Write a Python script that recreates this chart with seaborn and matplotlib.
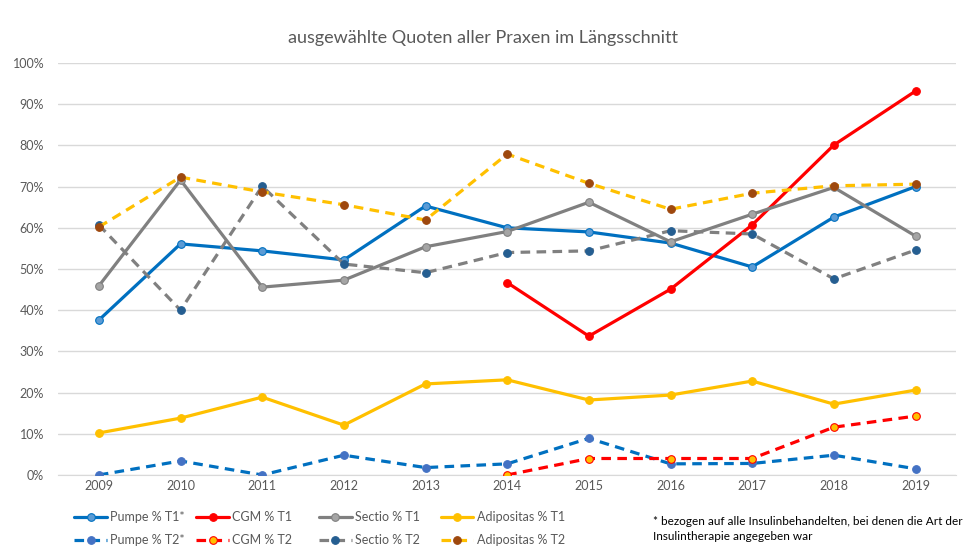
import numpy as np
import pandas as pd
import seaborn as sns
import matplotlib.pyplot as plt
from matplotlib.lines import Line2D

years = [2009, 2010, 2011, 2012, 2013, 2014, 2015, 2016, 2017, 2018, 2019]
nan = np.nan

pumpe_t1 = [37.6, 56.1, 54.4, 52.2, 65.3, 60.0, 59.0, 56.3, 50.5, 62.6, 70.0]
cgm_t1 = [nan, nan, nan, nan, nan, 46.7, 33.7, 45.1, 60.7, 80.1, 93.2]
sectio_t1 = [45.9, 71.6, 45.6, 47.3, 55.4, 59.1, 66.2, 56.6, 63.3, 69.8, 58.0]
adipositas_t1 = [10.2, 13.8, 18.9, 12.1, 22.1, 23.1, 18.2, 19.4, 22.8, 17.2, 20.6]

pumpe_t2 = [0.0, 3.4, 0.0, 4.8, 1.8, 2.7, 8.9, 2.7, 2.8, 4.8, 1.5]
cgm_t2 = [nan, nan, nan, nan, nan, 0.0, 4.0, 4.0, 4.0, 11.6, 14.3]
sectio_t2 = [60.7, 40.0, 70.1, 51.2, 49.1, 54.0, 54.4, 59.3, 58.5, 47.6, 54.6]
adipositas_t2 = [60.2, 72.3, 68.7, 65.6, 61.9, 77.9, 70.8, 64.5, 68.4, 70.2, 70.6]

# name, values, line colour, marker face, marker edge, dashed
series = [
    ("Pumpe % T1*", pumpe_t1, "#0070C0", "#5B9BD5", "#0070C0", False),
    ("CGM % T1", cgm_t1, "#FF0000", "#FF0000", "#FF0000", False),
    ("Sectio % T1", sectio_t1, "#808080", "#A5A5A5", "#808080", False),
    ("Adipositas % T1", adipositas_t1, "#FFC000", "#FFC000", "#FFC000", False),
    ("Pumpe % T2*", pumpe_t2, "#0070C0", "#4472C4", "#4472C4", True),
    ("CGM % T2", cgm_t2, "#FF0000", "#FFC000", "#FF0000", True),
    ("Sectio % T2", sectio_t2, "#808080", "#255E91", "#255E91", True),
    ("Adipositas % T2", adipositas_t2, "#FFC000", "#9E480E", "#9E480E", True),
]

sns.set_style("white")
plt.rcParams["font.family"] = ["Lato", "DejaVu Sans"]

fig = plt.figure(figsize=(9.67, 5.5), dpi=100)
ax = fig.add_axes([0.060, 0.1364, 0.929, 0.749])

xpos = np.arange(len(years))
handles = {}
for name, vals, col, face, edge, dashed in series:
    df = pd.DataFrame({"x": xpos, "y": np.array(vals) / 100})
    ls = (0, (3, 2)) if dashed else "-"
    sns.lineplot(data=df, x="x", y="y", ax=ax, color=col, linewidth=2.3,
                 linestyle=ls, marker="o", markersize=5.5,
                 markerfacecolor=face, markeredgecolor=edge,
                 markeredgewidth=0.8, zorder=3)
    handles[name] = Line2D([], [], color=col, linewidth=2.3, linestyle=ls,
                           marker="o", markersize=5.5, markerfacecolor=face,
                           markeredgecolor=edge, markeredgewidth=0.8)

ax.set_xlim(-0.5, len(years) - 0.5)
ax.set_ylim(0, 1)
ax.set_xticks(xpos)
ax.set_xticklabels(years)
ax.set_yticks(np.arange(0, 1.01, 0.1))
ax.set_yticklabels([f"{int(v)}%" for v in np.arange(0, 101, 10)])
ax.yaxis.grid(True, color="#D9D9D9", linewidth=1)
ax.set_axisbelow(True)
for s in ["top", "right", "left"]:
    ax.spines[s].set_visible(False)
ax.spines["bottom"].set_color("#D9D9D9")
ax.tick_params(axis="both", colors="#595959", labelsize=9, length=0)
ax.tick_params(axis="y", pad=10)
ax.set_xlabel("")
ax.set_ylabel("")

fig.suptitle("ausgewählte Quoten aller Praxen im Längsschnitt",
             x=0.5, y=0.945, fontsize=13, color="#595959")

# legend: one column per measure, equal spacing like the original
columns = [("Pumpe % T1*", "Pumpe % T2*"), ("CGM % T1", "CGM % T2"),
           ("Sectio % T1", "Sectio % T2"), ("Adipositas % T1", "Adipositas % T2")]
col_x = [0.077, 0.203, 0.330, 0.456]
for names, x0 in zip(columns, col_x):
    fig.legend([handles[n] for n in names], list(names), ncol=1, frameon=False,
               loc="upper left", bbox_to_anchor=(x0, 0.071),
               fontsize=9, labelcolor="#595959", handlelength=2.6,
               handletextpad=0.25, labelspacing=0.9,
               borderaxespad=0, borderpad=0)

fig.text(0.675, 0.038, "* bezogen auf alle Insulinbehandelten, bei denen die Art der\n"
         "Insulintherapie angegeben war", fontsize=8.5, color="#000000",
         va="center", ha="left", linespacing=1.5)

fig.savefig("out.png", dpi=100)
